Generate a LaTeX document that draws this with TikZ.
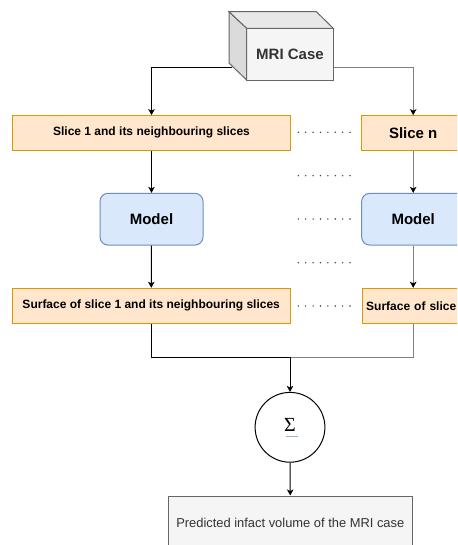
\documentclass[tikz,border=0pt]{standalone}
\usepackage{fontspec}
\setmainfont{Liberation Sans}
\newfontfamily\sigmafont{Liberation Serif}
\usetikzlibrary{arrows.meta}
\definecolor{orfill}{HTML}{FFE6CC}
\definecolor{ordraw}{HTML}{D79B00}
\definecolor{blfill}{HTML}{DAE8FC}
\definecolor{bldraw}{HTML}{6C8EBF}
\definecolor{gyfill}{HTML}{F5F5F5}
\definecolor{gydraw}{HTML}{666666}
\definecolor{gytext}{HTML}{333333}
\definecolor{gyline}{HTML}{808080}
\tikzset{
slicebox/.style={draw=ordraw, fill=orfill, minimum height=34.5pt, font=\bfseries\fontsize{12}{14}\selectfont},
modelbox/.style={draw=bldraw, fill=blfill, rounded corners=8pt, minimum width=103pt, minimum height=51.7pt, font=\bfseries\fontsize{15}{18}\selectfont},
arr/.style={-{Stealth[length=6pt, width=6.5pt, inset=1.5pt, color=black]}},
grayarr/.style={arr, gyline},
}

\begin{document}
\begin{tikzpicture}[x=1pt, y=-1pt, line width=1pt]
\useasboundingbox (0,0) rectangle (457,545);
\clip (0,0) rectangle (457,545);
\node[draw=gydraw, fill=gyfill, minimum width=86.6pt, minimum height=51.7pt, font=\bfseries\fontsize{15}{18}\selectfont, text=gytext] (mri) at (290,54.2) {MRI Case};
\draw[gydraw, fill=black!14] (229,11.7) -- (246.7,28.3) -- (246.7,80) -- (229,63) -- cycle;
\draw[gydraw, fill=black!9] (229,11.7) -- (316.3,11.7) -- (333.3,28.3) -- (246.7,28.3) -- cycle;
\node[slicebox, minimum width=278.4pt] (s1) at (151.5,132.9) {Slice 1 and its neighbouring slices};
\node[slicebox, minimum width=103pt, font=\bfseries\fontsize{15}{18}\selectfont] (sn) at (413.2,132.9) {Slice n};
\node[modelbox] (m1) at (151.5,219.2) {Model};
\node[modelbox] (mn) at (413.2,219.2) {Model};
\node[slicebox, minimum width=278pt, minimum height=35pt] (f1) at (151.2,305.8) {Surface of slice 1 and its neighbouring slices};
\node[slicebox, anchor=west, minimum height=35pt, text width=270pt, inner sep=4pt, align=left] (fn) at (361.7,305.8) {Surface of slice};
\node[draw, circle, minimum size=69.8pt] (sum) at (290,427.3) {\makebox[0pt][l]{\hspace{2pt}\color{bldraw!70}\rule[-5.6pt]{12pt}{0.6pt}}\sigmafont\fontsize{20}{22}\selectfont Σ};
\node[draw=gydraw, fill=gyfill, text=gytext, minimum width=244pt, minimum height=53.4pt, font=\fontsize{12.9}{15}\selectfont] (vol) at (290.3,522.7) {Predicted infact volume of the MRI case};
\coordinate (merge) at (290,357.3);
\draw[arr] ([xshift=-14pt, yshift=-13pt]mri.west) -| (s1.north);
\draw[grayarr] ([yshift=-13pt]mri.east) -| (sn.north);
\draw[arr] (s1) -- (m1);
\draw[arr] (m1) -- (f1);
\draw[grayarr] (sn) -- (mn);
\draw[grayarr] (mn.south) -- (mn |- fn.north);
\draw (f1.south) |- (merge);
\draw[gyline] (mn |- fn.south) |- (merge);
\draw[arr] (merge) -- (sum);
\draw[arr] (sum) -- (vol);
\foreach \y in {132.3,175.7,219,262.7,306} {
\foreach \x in {0,...,7} {
\fill[black!75] (298.3+7.39*\x,\y) circle (0.8);
}
}
\end{tikzpicture}
\end{document}
